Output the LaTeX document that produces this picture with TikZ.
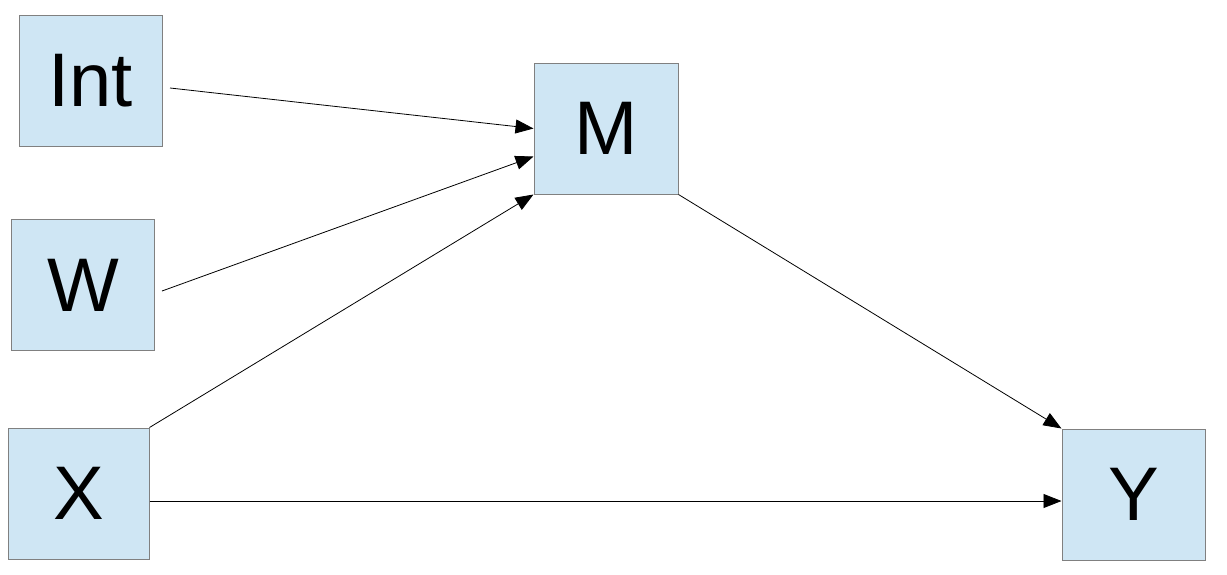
\documentclass[tikz,border=0pt]{standalone}
\usepackage{fontspec}
\setmainfont{Liberation Sans}
\usepackage{xcolor}
\usetikzlibrary{arrows.meta,positioning}
\definecolor{boxfill}{HTML}{CFE6F4}
\definecolor{boxline}{HTML}{808080}

\tikzset{
  varbox/.style={draw=boxline,fill=boxfill,line width=1pt,inner sep=0pt,
    minimum width=143pt,minimum height=131pt,
    font=\fontsize{76}{80}\selectfont},
  link/.style={-{Triangle[length=18pt,width=14pt]},line width=0.8pt,shorten >=0pt}
}

\begin{document}
\begin{tikzpicture}[x=1pt,y=-1pt]
\useasboundingbox (0,0) rectangle (1227,574);

\node[varbox] (Int) at (90.5,81) {Int};
\node[varbox] (W) at (83,285) {W};
\node[varbox,minimum width=141pt] (X) at (78.5,493.5) {X};
\node[varbox,minimum width=144pt] (M) at (606,128.5) {M};
\node[varbox] (Y) at (1133.5,494.5) {Y};

\coordinate (intout) at (170,88);
\coordinate (wout) at (162,291);

\draw[link] (intout) -- (M.west);
\draw[link] (wout) -- ([yshift=38pt]M.south west);
\draw[link] (X.north east) -- (M.south west);
\draw[link] (M.south east) -- (Y.north west);
\draw[link] ([yshift=-7.5pt]X.east) -- ([yshift=-7.5pt]X.east -| Y.west);
\end{tikzpicture}
\end{document}
